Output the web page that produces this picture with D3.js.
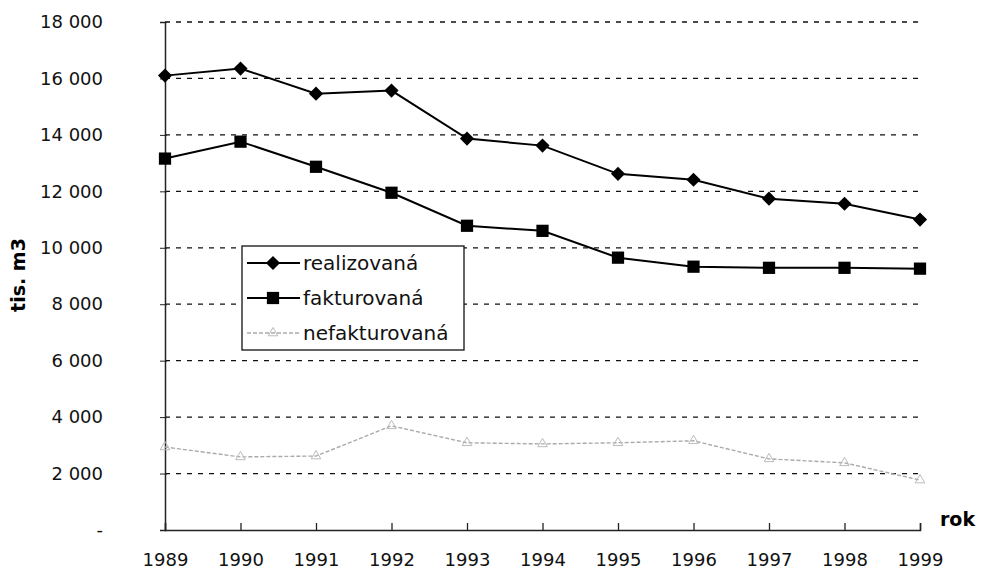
<!DOCTYPE html>
<html>
<head>
<meta charset="utf-8">
<script src="https://cdn.jsdelivr.net/npm/d3@7"></script>
<style>
  body { margin: 0; background: #fff; }
  svg { display: block; font-family: "DejaVu Sans", sans-serif; }
</style>
</head>
<body>
<script>
// data (tis. m3)
var years = [1989, 1990, 1991, 1992, 1993, 1994, 1995, 1996, 1997, 1998, 1999];
var realizovana = [16100, 16350, 15460, 15570, 13870, 13620, 12620, 12410, 11740, 11560, 11000];
var fakturovana = [13160, 13760, 12870, 11950, 10780, 10600, 9650, 9330, 9290, 9290, 9260];
var nefakturovana = [2940, 2590, 2620, 3690, 3090, 3050, 3090, 3160, 2520, 2380, 1770];
var yTicks = [0, 2000, 4000, 6000, 8000, 10000, 12000, 14000, 16000, 18000];
var seriesNames = ["realizovaná", "fakturovaná", "nefakturovaná"];

var width = 981, height = 574;
var svg = d3.select("body").append("svg").attr("width", width).attr("height", height);

var x = d3.scalePoint().domain(years).range([165, 920]);
var y = d3.scaleLinear().domain([0, 18000]).range([530, 22]);

function fmt(v) {
  if (v === 0) return "-";
  return d3.format(",")(v).replace(/,/g, " ");
}

// gridlines
svg.append("g").selectAll("line")
  .data(yTicks.filter(function (d) { return d > 0; }))
  .enter().append("line")
  .attr("x1", 165).attr("x2", 920)
  .attr("y1", function (d) { return y(d); })
  .attr("y2", function (d) { return y(d); })
  .attr("stroke", "#111")
  .attr("stroke-width", 1.3)
  .attr("stroke-dasharray", "5,6");

// y axis
var yAxis = svg.append("g")
  .attr("transform", "translate(165,0)")
  .call(d3.axisLeft(y).tickValues(yTicks).tickFormat(fmt).tickSize(5).tickPadding(57));
yAxis.select(".domain").attr("stroke", "#222").attr("stroke-width", 1.5);
yAxis.selectAll(".tick line").attr("stroke", "#222").attr("x2", 2).attr("x1", -5);
yAxis.selectAll("text").attr("font-size", 18).attr("fill", "#111")
  .attr("font-family", "DejaVu Sans, sans-serif");

// x axis
var xAxis = svg.append("g")
  .attr("transform", "translate(0,530)")
  .call(d3.axisBottom(x).tickSize(-7).tickPadding(23).tickFormat(d3.format("d")));
xAxis.select(".domain").attr("stroke", "#222").attr("stroke-width", 1.5);
xAxis.selectAll(".tick line").attr("stroke", "#222").attr("stroke-width", 1.3);
xAxis.selectAll("text").attr("font-size", 18).attr("fill", "#111")
  .attr("font-family", "DejaVu Sans, sans-serif");

// axis titles
svg.append("text")
  .attr("transform", "translate(25,275) rotate(-90)")
  .attr("text-anchor", "middle")
  .attr("font-size", 19).attr("font-weight", "bold")
  .text("tis. m3");
svg.append("text")
  .attr("x", 940).attr("y", 526)
  .attr("font-size", 19).attr("font-weight", "bold")
  .text("rok");

var line = d3.line()
  .x(function (d, i) { return x(years[i]); })
  .y(function (d) { return y(d); });

var square = d3.symbol().type(d3.symbolSquare).size(150);
var diamond = d3.symbol().type(d3.symbolSquare).size(100);
var triangle = d3.symbol().type(d3.symbolTriangle).size(40);

// nefakturovaná
svg.append("path").datum(nefakturovana)
  .attr("d", line).attr("fill", "none")
  .attr("stroke", "#aaa").attr("stroke-width", 1.4).attr("stroke-dasharray", "4,2");
svg.append("g").selectAll("path").data(nefakturovana).enter().append("path")
  .attr("d", triangle)
  .attr("transform", function (d, i) { return "translate(" + x(years[i]) + "," + y(d) + ")"; })
  .attr("fill", "none").attr("stroke", "#bbb").attr("stroke-width", 1);

// fakturovaná
svg.append("path").datum(fakturovana)
  .attr("d", line).attr("fill", "none").attr("stroke", "#000").attr("stroke-width", 2);
svg.append("g").selectAll("path").data(fakturovana).enter().append("path")
  .attr("d", square)
  .attr("transform", function (d, i) { return "translate(" + x(years[i]) + "," + y(d) + ")"; })
  .attr("fill", "#000");

// realizovaná
svg.append("path").datum(realizovana)
  .attr("d", line).attr("fill", "none").attr("stroke", "#000").attr("stroke-width", 2);
svg.append("g").selectAll("path").data(realizovana).enter().append("path")
  .attr("d", diamond)
  .attr("transform", function (d, i) { return "translate(" + x(years[i]) + "," + y(d) + ") rotate(45)"; })
  .attr("fill", "#000");

// legend
var lg = svg.append("g").attr("transform", "translate(242,246)");
lg.append("rect").attr("width", 222).attr("height", 104)
  .attr("fill", "#fff").attr("stroke", "#111").attr("stroke-width", 1.3);
var rows = lg.selectAll("g").data(seriesNames).enter().append("g")
  .attr("transform", function (d, i) { return "translate(0," + (17 + i * 35) + ")"; });
rows.append("line").attr("x1", 5).attr("x2", 58)
  .attr("stroke", function (d, i) { return i === 2 ? "#aaa" : "#000"; })
  .attr("stroke-width", function (d, i) { return i === 2 ? 1.4 : 2; })
  .attr("stroke-dasharray", function (d, i) { return i === 2 ? "4,2" : null; });
rows.append("path")
  .attr("transform", function (d, i) { return "translate(31,0)" + (i === 0 ? " rotate(45)" : ""); })
  .attr("d", function (d, i) { return [diamond, square, triangle][i](); })
  .attr("fill", function (d, i) { return i === 2 ? "none" : "#000"; })
  .attr("stroke", function (d, i) { return i === 2 ? "#bbb" : "none"; });
rows.append("text").attr("x", 61).attr("y", 7)
  .attr("font-size", 20).attr("fill", "#111")
  .text(function (d) { return d; });
</script>
</body>
</html>
